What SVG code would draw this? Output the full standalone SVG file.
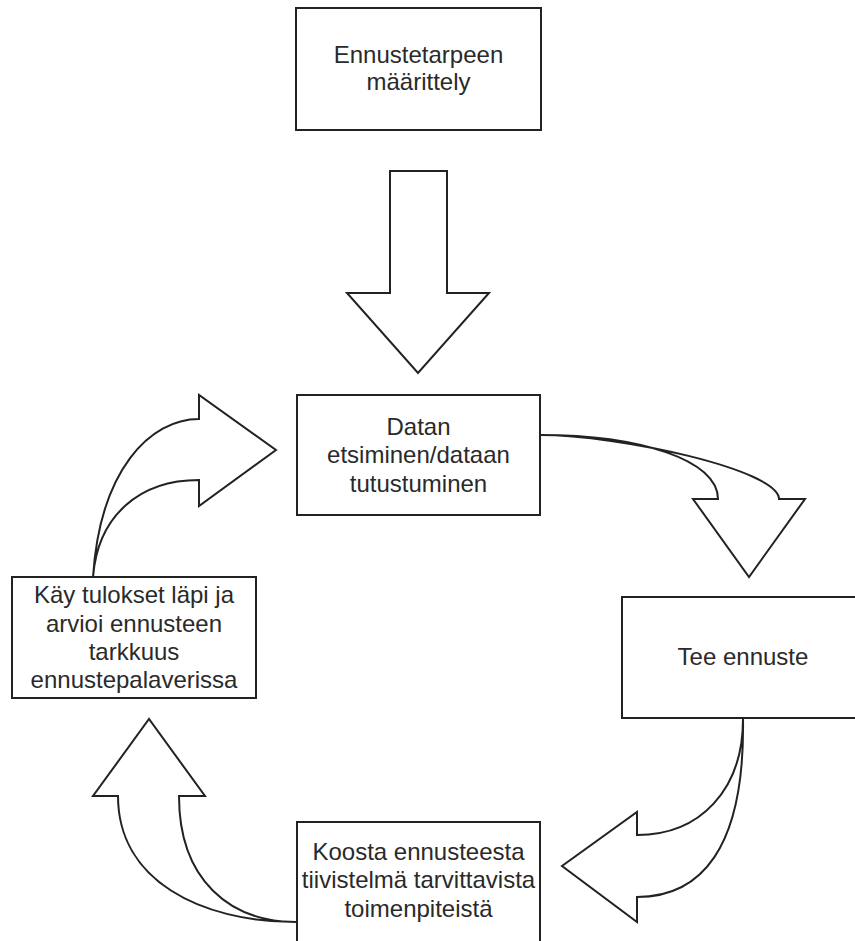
<svg xmlns="http://www.w3.org/2000/svg" width="855" height="941" viewBox="0 0 855 941">
<style>
.box{fill:#fff;stroke:#222;stroke-width:2}
.arr{fill:#fff;stroke:#222;stroke-width:2;stroke-linejoin:miter}
.t{font-family:"Liberation Sans",Arial,sans-serif;font-size:24px;fill:#2a2a2a;text-anchor:middle}
</style>
<rect width="855" height="941" fill="#fff"/>
<g id="connectors">
<path id="c1" class="arr" d="M390,171 L447,171 L447,293 L489,293 L418,373 L347,293 L390,293 Z"/>
<path id="c2" class="arr" d="M540,435 C620,435 779,470 779,499 L805,499 L749,577 L693,499 L718,499 C718,460 640,435 540,435 Z"/>
<path id="c3" class="arr" d="M743,719 C743,790 700,835 637,835 L637,812 L562,866 L637,922 L637,897 C700,897 745,850 743,719 Z"/>
<path id="c4" class="arr" d="M296,922 C200,922 118,880 118,796 L93,796 L149,719 L205,796 L179,796 C179,880 230,922 296,922 Z"/>
<path id="c5" class="arr" d="M93,577 C100,470 150,419 199,419 L199,395 L276,450 L199,506 L199,480 C140,480 98,515 93,577 Z"/>
</g>
<g id="n1">
<rect class="box" x="296" y="8" width="245" height="122"/>
<text class="t" x="418.5" y="63">Ennustetarpeen</text>
<text class="t" x="418.5" y="90">määrittely</text>
</g>
<g id="n2">
<rect class="box" x="297" y="395" width="243" height="120"/>
<text class="t" x="418.5" y="435">Datan</text>
<text class="t" x="418.5" y="463">etsiminen/dataan</text>
<text class="t" x="418.5" y="492">tutustuminen</text>
</g>
<g id="n3">
<rect class="box" x="622" y="597" width="243" height="121"/>
<text class="t" x="743" y="665">Tee ennuste</text>
</g>
<g id="n4">
<rect class="box" x="297" y="822" width="243" height="130"/>
<text class="t" x="418.5" y="860">Koosta ennusteesta</text>
<text class="t" x="418.5" y="888">tiivistelmä tarvittavista</text>
<text class="t" x="418.5" y="917">toimenpiteistä</text>
</g>
<g id="n5">
<rect class="box" x="12" y="577" width="244" height="121"/>
<text class="t" x="134" y="603">Käy tulokset läpi ja</text>
<text class="t" x="134" y="632">arvioi ennusteen</text>
<text class="t" x="134" y="660">tarkkuus</text>
<text class="t" x="134" y="688">ennustepalaverissa</text>
</g>
</svg>
